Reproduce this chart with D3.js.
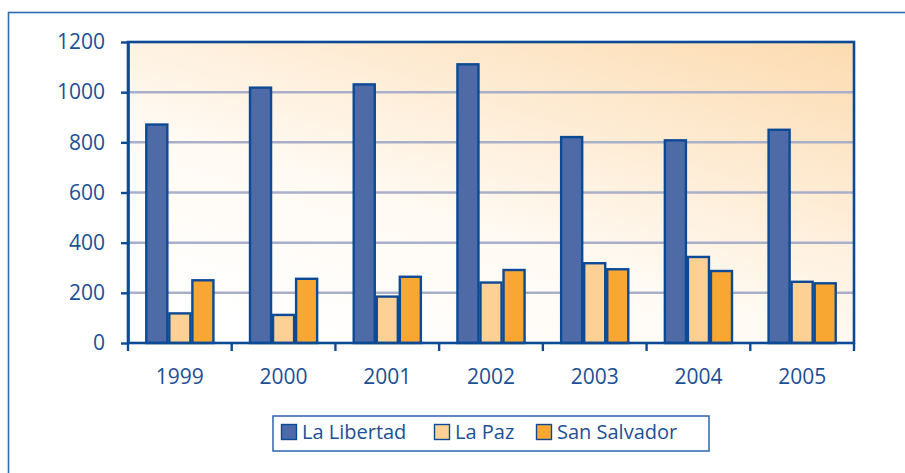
<!DOCTYPE html>
<html lang="es">
<head>
  <meta charset="UTF-8" />
  <script src="https://d3js.org/d3.v7.min.js"></script>
  <style>
    body { margin: 0; background: #fff; }
    text { font-family: "Open Sans", sans-serif; fill: #1b4f96; }
  </style>
</head>
<body>
  <div id="chart"></div>

  <script>
    const years = ["1999", "2000", "2001", "2002", "2003", "2004", "2005"];
    const series = ["La Libertad", "La Paz", "San Salvador"];
    const laLibertad = [875, 1022, 1035, 1115, 825, 812, 854];
    const laPaz = [122, 116, 189, 245, 322, 347, 248];
    const sanSalvador = [254, 260, 268, 295, 298, 291, 242];
    const yTicks = [0, 200, 400, 600, 800, 1000, 1200];

    const colors = { "La Libertad": "#4e6ba7", "La Paz": "#fdd095", "San Salvador": "#f9a733" };
    const values = { "La Libertad": laLibertad, "La Paz": laPaz, "San Salvador": sanSalvador };
    const ink = "#0c4a95";

    const W = 905, H = 473;
    const plot = { left: 128, top: 42, right: 854, bottom: 343 };

    const svg = d3.select("#chart").append("svg").attr("width", W).attr("height", H);
    const defs = svg.append("defs");
    const grad = defs.append("linearGradient").attr("id", "bg")
      .attr("x1", "0.25").attr("y1", "1").attr("x2", "1").attr("y2", "0");
    grad.append("stop").attr("offset", "0").attr("stop-color", "#ffffff");
    grad.append("stop").attr("offset", "0.35").attr("stop-color", "#fffaf3");
    grad.append("stop").attr("offset", "1").attr("stop-color", "#fcdbb0");

    // outer frame (runs off the right / bottom edge)
    svg.append("rect")
      .attr("x", 8.5).attr("y", 12.5).attr("width", W + 20).attr("height", H + 20)
      .attr("fill", "none").attr("stroke", "#3169b2").attr("stroke-width", 1.6);

    const x = d3.scaleBand().domain(years).range([plot.left, plot.right]).padding(0);
    const xs = d3.scaleBand().domain(series).range([0, x.bandwidth()]).paddingInner(0).paddingOuter(0.75);
    const y = d3.scaleLinear().domain([0, 1200]).range([plot.bottom, plot.top]);

    // plot background
    svg.append("rect")
      .attr("x", plot.left).attr("y", plot.top)
      .attr("width", plot.right - plot.left).attr("height", plot.bottom - plot.top)
      .attr("fill", "url(#bg)");

    // gridlines
    svg.append("g").selectAll("line")
      .data(yTicks.filter(d => d > 0 && d < 1200)).join("line")
      .attr("x1", plot.left).attr("x2", plot.right)
      .attr("y1", d => y(d)).attr("y2", d => y(d))
      .attr("stroke", "#a9afc9").attr("stroke-width", 2.5);

    // bars
    const groups = svg.append("g").selectAll("g")
      .data(years).join("g")
      .attr("transform", d => `translate(${x(d)},0)`);

    groups.selectAll("rect")
      .data((yr, i) => series.map(s => ({ s, v: values[s][i] })))
      .join("rect")
      .attr("x", d => xs(d.s) + 1)
      .attr("width", xs.bandwidth() - 2)
      .attr("y", d => y(d.v) + 1)
      .attr("height", d => y(0) - y(d.v) - 1)
      .attr("fill", d => colors[d.s])
      .attr("stroke", ink).attr("stroke-width", 2.4);

    // plot border
    svg.append("rect")
      .attr("x", plot.left).attr("y", plot.top)
      .attr("width", plot.right - plot.left).attr("height", plot.bottom - plot.top)
      .attr("fill", "none").attr("stroke", ink).attr("stroke-width", 2.6);

    // y axis
    const yAxis = svg.append("g")
      .attr("transform", `translate(${plot.left},0)`)
      .call(d3.axisLeft(y).tickValues(yTicks).tickFormat(d3.format("d"))
        .tickSize(7).tickSizeOuter(0).tickPadding(16));
    yAxis.select(".domain").attr("stroke", ink).attr("stroke-width", 2.6);
    yAxis.selectAll(".tick line").attr("stroke", ink).attr("stroke-width", 2.4);
    yAxis.selectAll(".tick text").attr("font-size", 21).attr("font-family", "Open Sans").attr("fill", "#1b4f96");

    // x axis: ticks at category boundaries, labels centred
    const bounds = years.map(d => x(d)).concat([plot.right]);
    svg.append("g").selectAll("line")
      .data(bounds).join("line")
      .attr("x1", d => d).attr("x2", d => d)
      .attr("y1", plot.bottom).attr("y2", plot.bottom + 8)
      .attr("stroke", ink).attr("stroke-width", 2.4);

    svg.append("g").selectAll("text")
      .data(years).join("text")
      .attr("x", d => x(d) + x.bandwidth() / 2)
      .attr("y", 384)
      .attr("text-anchor", "middle")
      .attr("font-size", 21)
      .text(d => d);

    // legend
    const legend = svg.append("g");
    legend.append("rect")
      .attr("x", 273).attr("y", 416).attr("width", 436).attr("height", 35)
      .attr("fill", "#fff").attr("stroke", "#2d63ad").attr("stroke-width", 1.5);

    const legendX = [281, 434, 536];
    const items = legend.selectAll("g.item")
      .data(series).join("g").attr("class", "item")
      .attr("transform", (d, i) => `translate(${legendX[i]},424)`);
    items.append("rect")
      .attr("x", 0.5).attr("y", 0.5).attr("width", 15).attr("height", 15)
      .attr("fill", d => colors[d]).attr("stroke", ink).attr("stroke-width", 1.4);
    items.append("text")
      .attr("x", 21).attr("y", 15)
      .attr("font-size", 20)
      .text(d => d);
  </script>
</body>
</html>
